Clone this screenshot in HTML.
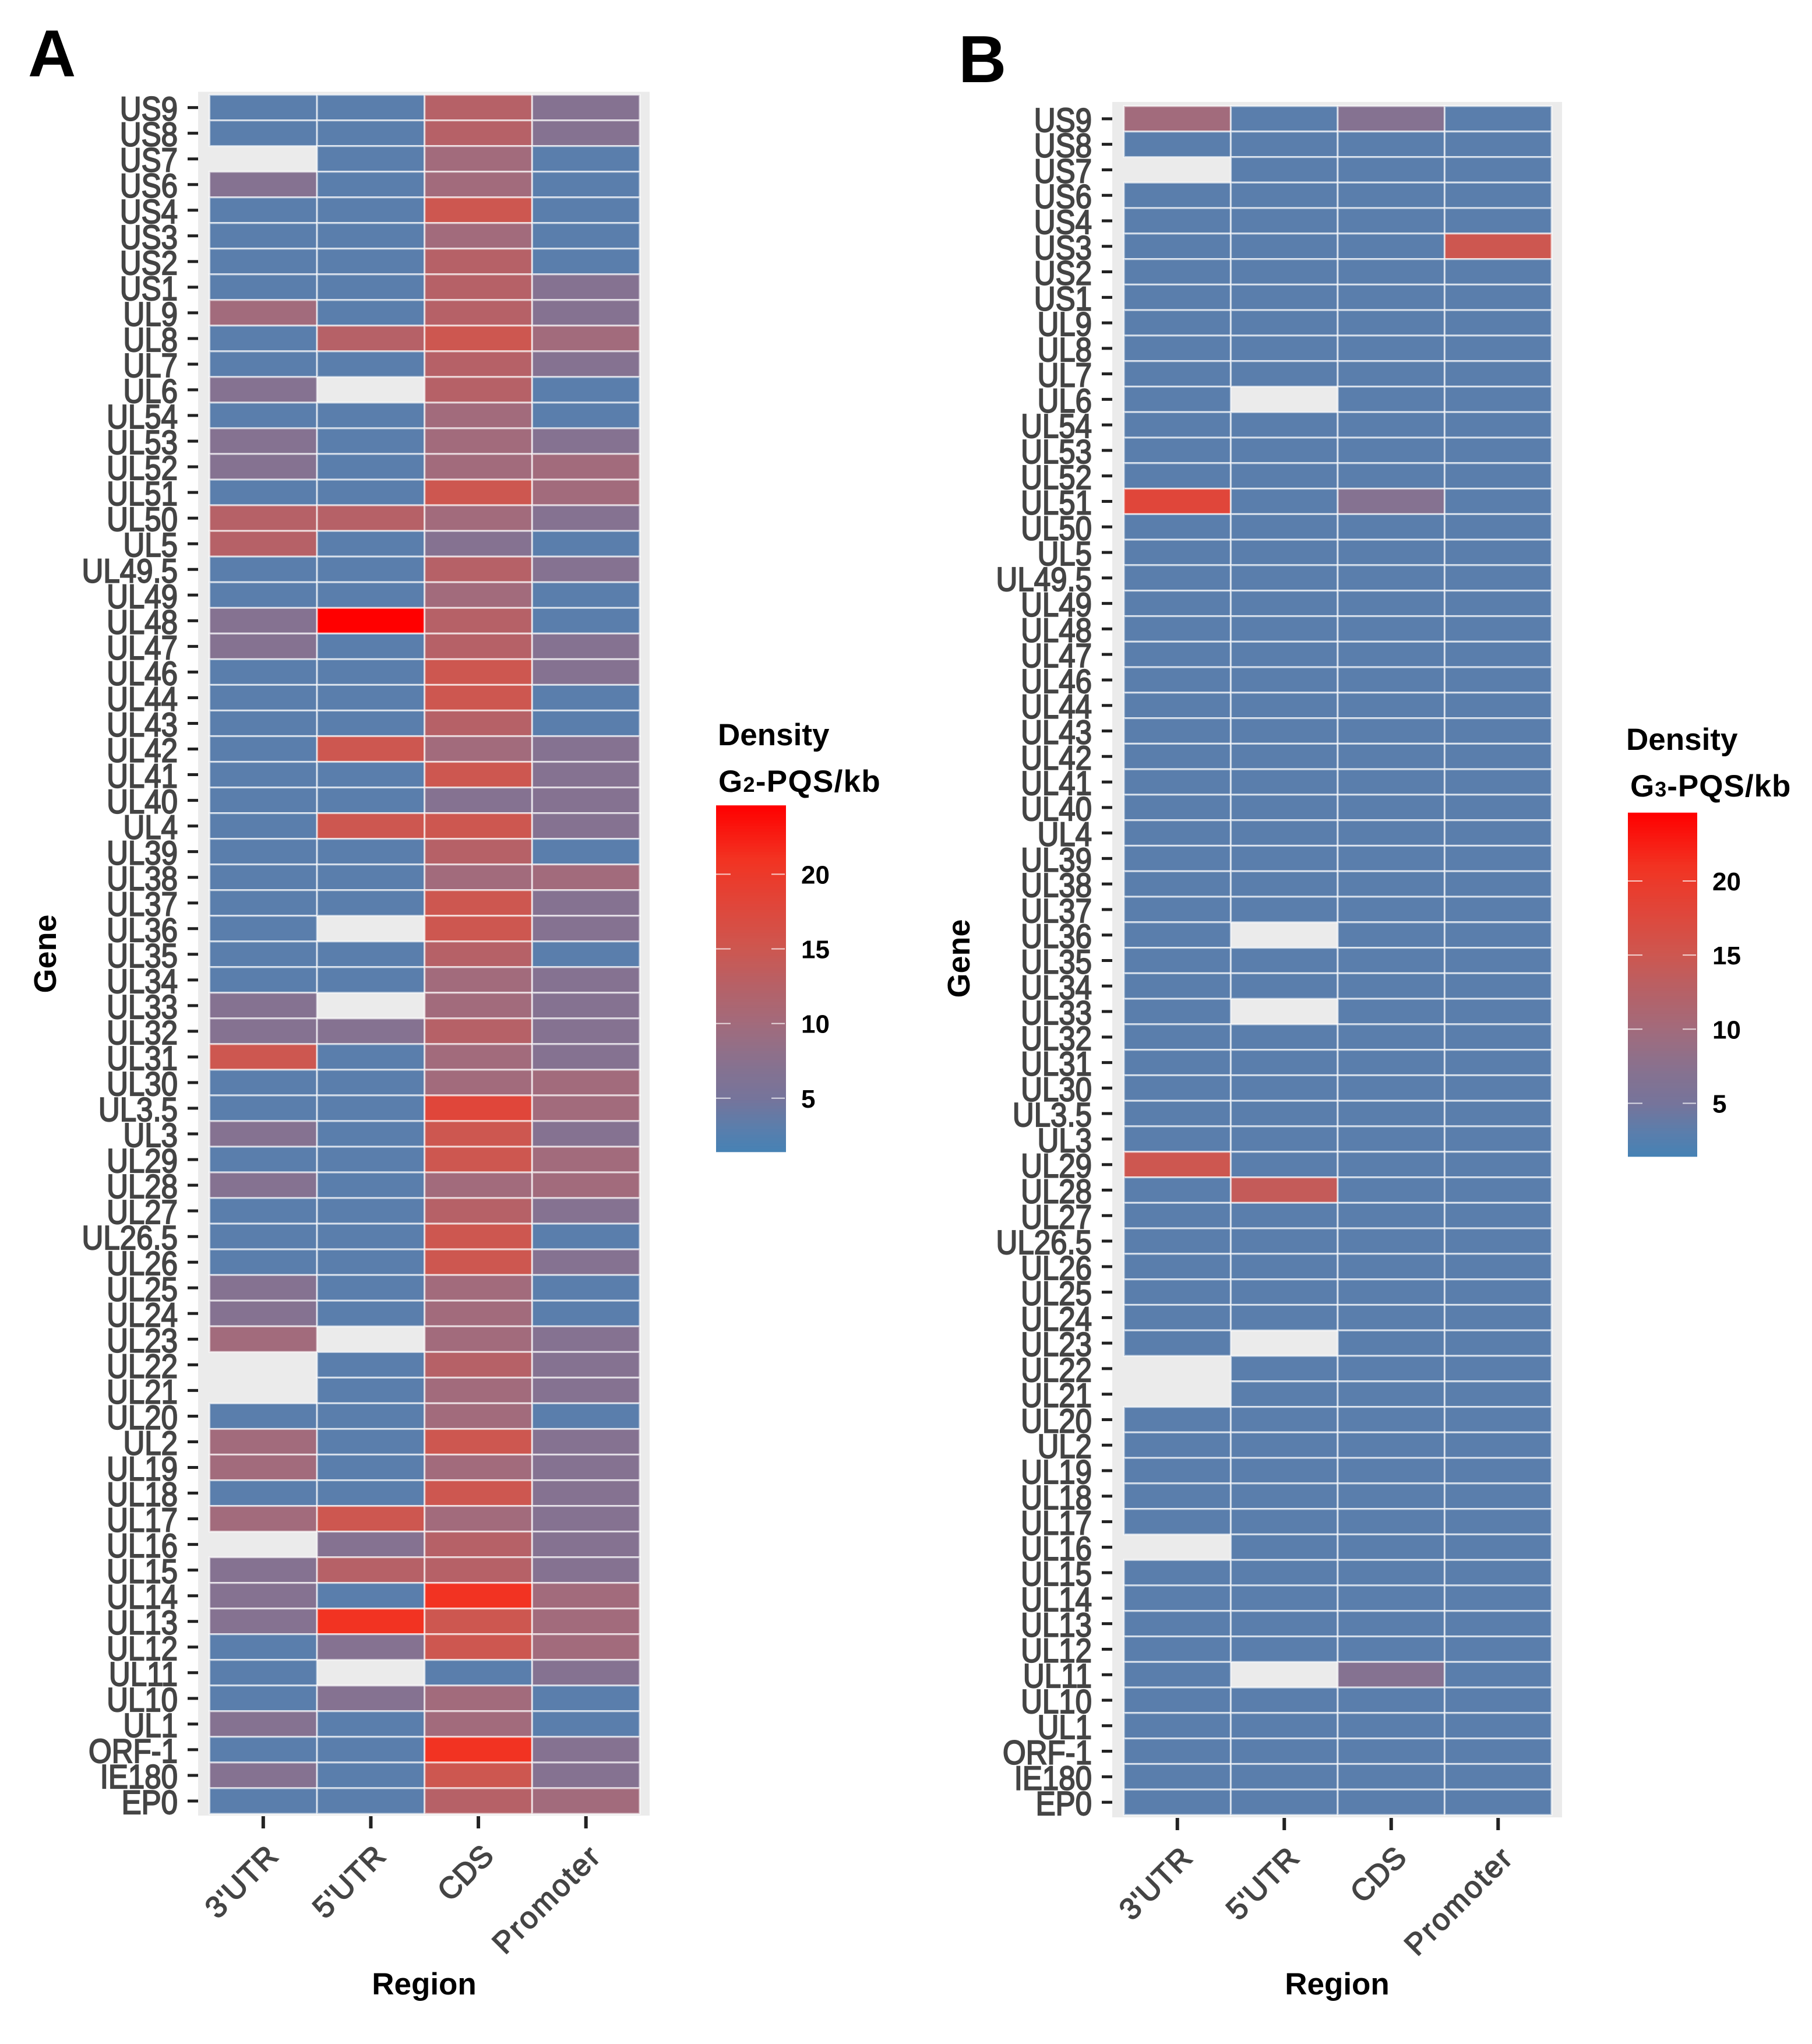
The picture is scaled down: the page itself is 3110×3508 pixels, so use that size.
<!DOCTYPE html>
<html lang="en">
<head>
<meta charset="utf-8">
<title>G-PQS density heatmaps</title>
<style>
html,body{margin:0;padding:0;background:#fff;}
svg{display:block;font-family:"Liberation Sans",Arial,sans-serif;}
</style>
</head>
<body>
<svg id="figure" xmlns="http://www.w3.org/2000/svg" width="3110" height="3508" viewBox="0 0 3110 3508">
  <rect width="3110" height="3508" fill="#fff"/>
  <text x="48" y="131" font-size="114" font-weight="bold" fill="#000">A</text>
  <text x="1645" y="141" font-size="114" font-weight="bold" fill="#000">B</text>
  <g id="panelA"></g>
  <g id="panelB"></g>
  <text transform="translate(96,1637) rotate(-90)" text-anchor="middle" font-size="54" font-weight="bold" fill="#000">Gene</text>
  <text transform="translate(1664,1645) rotate(-90)" text-anchor="middle" font-size="54" font-weight="bold" fill="#000">Gene</text>
  <text x="728" y="3423" text-anchor="middle" font-size="53" font-weight="bold" fill="#000">Region</text>
  <text x="2295" y="3423" text-anchor="middle" font-size="53" font-weight="bold" fill="#000">Region</text>
  <text x="1232" y="1279" font-size="53" font-weight="bold" fill="#000">Density</text>
  <text x="1233" y="1359" font-size="53" font-weight="bold" letter-spacing="1.3" fill="#000">G<tspan font-size="36">2</tspan>-PQS/kb</text>
  <text x="2791" y="1287" font-size="53" font-weight="bold" fill="#000">Density</text>
  <text x="2798" y="1367" font-size="53" font-weight="bold" letter-spacing="1" fill="#000">G<tspan font-size="36">3</tspan>-PQS/kb</text>
  <g id="legendA"></g>
  <g id="legendB"></g>
</svg>
<script>
const genes = ["US9","US8","US7","US6","US4","US3","US2","US1","UL9","UL8","UL7","UL6","UL54","UL53","UL52","UL51","UL50","UL5","UL49.5","UL49","UL48","UL47","UL46","UL44","UL43","UL42","UL41","UL40","UL4","UL39","UL38","UL37","UL36","UL35","UL34","UL33","UL32","UL31","UL30","UL3.5","UL3","UL29","UL28","UL27","UL26.5","UL26","UL25","UL24","UL23","UL22","UL21","UL20","UL2","UL19","UL18","UL17","UL16","UL15","UL14","UL13","UL12","UL11","UL10","UL1","ORF-1","IE180","EP0"];
const regions = ["3'UTR","5'UTR","CDS","Promoter"];
const legendTicks = [5,10,15,20];
const colorDomain = [1.4,24.6];
const colorStopValues = [1.4,3,5,7,10,12.5,15,18,21,24.6];
const colorStopRGB = [[70,130,180],[90,126,172],[118,116,155],[133,114,145],[162,107,124],[182,97,103],[205,87,80],[224,70,58],[242,51,34],[255,0,0]];

const a3utr = [3,3,null,7,3,3,3,3,10,3,3,7,3,7,7,3,12.5,12.5,3,3,7,7,3,3,3,3,3,3,3,3,3,3,3,3,3,7,7,15,3,3,7,3,7,3,3,3,7,7,10,null,null,3,10,10,3,10,null,7,7,7,3,3,3,7,3,7,3];
const a5utr = [3,3,3,3,3,3,3,3,3,12.5,3,null,3,3,3,3,12.5,3,3,3,24.6,3,3,3,3,15,3,3,15,3,3,3,null,3,3,null,7,3,3,3,3,3,3,3,3,3,3,3,null,3,3,3,3,3,3,15,7,12.5,3,21,7,null,7,3,3,3,3];
const aCds = [12.5,12.5,10,10,15,10,12.5,12.5,12.5,15,12.5,12.5,10,10,10,15,10,7,12.5,10,12.5,12.5,15,15,12.5,10,15,7,15,12.5,10,15,15,12.5,10,10,12.5,10,10,18,15,15,10,12.5,15,15,10,10,10,12.5,10,10,15,10,15,10,12.5,12.5,21,15,15,3,10,10,21,15,12.5];
const aPromoter = [7,7,3,3,3,3,3,7,7,10,7,3,3,7,10,10,7,3,7,3,3,7,7,3,3,7,7,7,7,3,10,7,7,3,7,7,7,7,10,10,7,10,10,7,3,7,3,3,7,7,7,3,7,7,7,7,7,7,10,10,10,7,3,3,7,7,10];

const b3utr = [10,3,null,3,3,3,3,3,3,3,3,3,3,3,3,18,3,3,3,3,3,3,3,3,3,3,3,3,3,3,3,3,3,3,3,3,3,3,3,3,3,15,3,3,3,3,3,3,3,null,null,3,3,3,3,3,null,3,3,3,3,3,3,3,3,3,3];
const b5utr = [3,3,3,3,3,3,3,3,3,3,3,null,3,3,3,3,3,3,3,3,3,3,3,3,3,3,3,3,3,3,3,3,null,3,3,null,3,3,3,3,3,3,14,3,3,3,3,3,null,3,3,3,3,3,3,3,3,3,3,3,3,null,3,3,3,3,3];
const bCds = [7,3,3,3,3,3,3,3,3,3,3,3,3,3,3,7,3,3,3,3,3,3,3,3,3,3,3,3,3,3,3,3,3,3,3,3,3,3,3,3,3,3,3,3,3,3,3,3,3,3,3,3,3,3,3,3,3,3,3,3,3,7,3,3,3,3,3];
const bPromoter = [3,3,3,3,3,15,3,3,3,3,3,3,3,3,3,3,3,3,3,3,3,3,3,3,3,3,3,3,3,3,3,3,3,3,3,3,3,3,3,3,3,3,3,3,3,3,3,3,3,3,3,3,3,3,3,3,3,3,3,3,3,3,3,3,3,3,3];

const NS = "http://www.w3.org/2000/svg";
function make(tag, attrs, parent){
  const el = document.createElementNS(NS, tag);
  for (const k in attrs) el.setAttribute(k, attrs[k]);
  parent.appendChild(el);
  return el;
}
function colorScale(v){
  const x = Math.max(colorDomain[0],Math.min(colorDomain[1],v));
  let i = 0;
  while (i < colorStopValues.length-2 && x > colorStopValues[i+1]) i++;
  const t = (x-colorStopValues[i])/(colorStopValues[i+1]-colorStopValues[i]);
  const c = colorStopRGB[i].map((a,k)=>Math.round(a+(colorStopRGB[i+1][k]-a)*t));
  return "rgb("+c[0]+","+c[1]+","+c[2]+")";
}

function drawPanel(rootId, cfg, series){
  const root = document.getElementById(rootId);
  const bandW = (cfg.cellRight-cfg.cellLeft)/regions.length;
  const bandH = (cfg.cellBottom-cfg.cellTop)/genes.length;
  const xScale = i => cfg.cellLeft + i*bandW;
  const yScale = i => cfg.cellTop + i*bandH;

  const bg = make("rect",{x:cfg.bgLeft,y:cfg.bgTop,width:cfg.bgRight-cfg.bgLeft,height:cfg.bgBottom-cfg.bgTop,fill:"#ebebeb"},root);
  
  

  series.forEach((values,c)=>{
    values.forEach((v,r)=>{
      const cell = make("rect",{x:xScale(c),y:yScale(r),width:bandW,height:bandH,
        fill: v===null ? "none" : colorScale(v),
        stroke: v===null ? "none" : "rgba(255,255,255,0.62)",
        "stroke-width":3.2},root);
      
      
    });
  });

  genes.forEach((g,r)=>{
    const cy = yScale(r)+bandH/2;
    const tick = make("line",{x1:cfg.bgLeft-18,x2:cfg.bgLeft,y1:cy,y2:cy,stroke:"#222",
      "stroke-width":5},root);
    
    
    const lx = cfg.bgLeft-35, ly = cy+22;
    const label = make("text",{transform:"translate("+lx+","+ly+") scale(1,1.13)","text-anchor":"end","font-size":51,fill:"#444",stroke:"#444","stroke-width":1.9},root);
    label.textContent = g;
    
    
  });

  regions.forEach((name,c)=>{
    const cx = xScale(c)+bandW/2;
    const tick = make("line",{x1:cx,x2:cx,y1:cfg.bgBottom+1,y2:cfg.bgBottom+22,stroke:"#222",
      "stroke-width":6},root);
    
    
    const lx = cx+29, ly = cfg.bgBottom+72;
    const label = make("text",{transform:"translate("+lx+","+ly+") rotate(-45)","text-anchor":"end","font-size":52,"letter-spacing":(name.length-3)*0.6,fill:"#444",stroke:"#444","stroke-width":1.7},root);
    label.textContent = name;
    
    
  });
}

function drawLegend(rootId, cfg){
  const root = document.getElementById(rootId);
  const legendY = v => cfg.bottom - (v-colorDomain[0])/(colorDomain[1]-colorDomain[0])*(cfg.bottom-cfg.top);
  const steps = 120, h = (cfg.bottom-cfg.top)/steps;
  for (let i=0;i<steps;i++){
    const v = colorDomain[0]+(i+0.5)/steps*(colorDomain[1]-colorDomain[0]);
    const strip = make("rect",{x:cfg.left,y:legendY(v)-h/2-0.3,width:cfg.right-cfg.left,height:h+0.6,fill:colorScale(v)},root);
    
    
  }
  legendTicks.forEach(v=>{
    const y = legendY(v);
    const left = make("line",{x1:cfg.left,x2:cfg.left+25,y1:y,y2:y,stroke:"rgba(255,255,255,0.75)","stroke-width":2},root);
    
    
    const right = make("line",{x1:cfg.right-25,x2:cfg.right-2,y1:y,y2:y,stroke:"rgba(255,255,255,0.75)","stroke-width":2},root);
    
    
    const label = make("text",{x:cfg.right+26,y:y+16,"font-size":44,"font-weight":"bold",fill:"#000"},root);
    label.textContent = String(v);
    
    
  });
}

drawPanel("panelA",{bgLeft:340,bgRight:1115,bgTop:157.5,bgBottom:3116,cellLeft:359.5,cellRight:1098,cellTop:162.6,cellBottom:3113},[a3utr,a5utr,aCds,aPromoter]);
drawPanel("panelB",{bgLeft:1909,bgRight:2681,bgTop:175,bgBottom:3119,cellLeft:1929,cellRight:2663,cellTop:182,cellBottom:3115},[b3utr,b5utr,bCds,bPromoter]);
drawLegend("legendA",{left:1229,right:1349,top:1382.5,bottom:1977});
drawLegend("legendB",{left:2794,right:2913,top:1395,bottom:1985});
</script>
</body>
</html>
